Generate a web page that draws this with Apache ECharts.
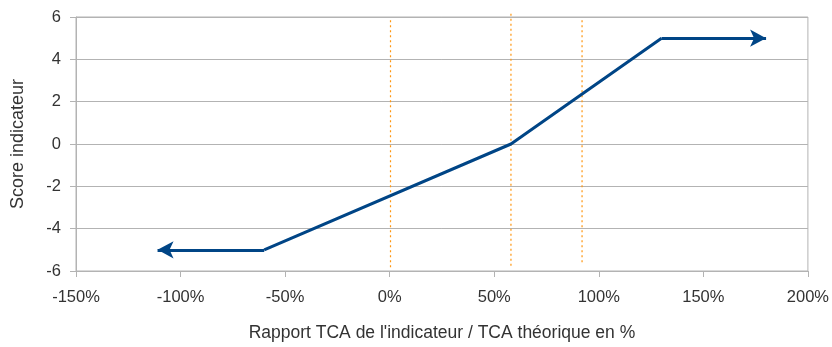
<!DOCTYPE html>
<html>
<head>
<meta charset="utf-8">
<script src="https://cdn.jsdelivr.net/npm/echarts@6/dist/echarts.min.js"></script>
<style>
  html, body { margin: 0; padding: 0; background: #fff; }
  #main { width: 832px; height: 347px; }
</style>
</head>
<body>
<div id="main"></div>
<script>
// courbe du score (x en %, y score)
var scoreX = [-60, 58, 130];
var scoreY = [-5, 0, 5];
// segments fléchés aux extrémités
var arrowLeft = [[-60, -5], [-111, -5]];
var arrowRight = [[130, 5], [180, 5]];
// seuils verticaux (pointillés orange)
var seuilsX = [0.4, 58, 92];
var seuilsTop = [5.85, 6.15, 5.85];
var seuilsBottom = [-5.85, -5.75, -5.7];

var chartDom = document.getElementById("main");
var myChart = echarts.init(chartDom);
var font = "Liberation Sans";

var series = [
  {
    name: "score",
    type: "line",
    data: scoreX.map(function (x, i) { return [x, scoreY[i]]; }),
    symbol: "none",
    lineStyle: { color: "#004586", width: 3 },
    z: 5,
    markLine: {
      silent: true,
      symbol: ["none", "arrow"],
      symbolSize: [13, 16],
      label: { show: false },
      lineStyle: { color: "#004586", width: 3, type: "solid" },
      data: [
        [{ coord: arrowLeft[0] }, { coord: arrowLeft[1] }],
        [{ coord: arrowRight[0] }, { coord: arrowRight[1] }]
      ]
    }
  }
];

seuilsX.forEach(function (x, i) {
  series.push({
    type: "line",
    data: [[x, seuilsTop[i]], [x, seuilsBottom[i]]],
    symbol: "none",
    clip: false,
    lineStyle: { color: "#ff950e", width: 1.2, type: [2, 3] },
    z: 3
  });
});

var option = {
  animation: false,
  textStyle: { fontFamily: font },
  grid: {
    left: 76, right: 24, top: 17, bottom: 75,
    show: true, borderColor: "#b3b3b3", borderWidth: 1
  },
  xAxis: {
    type: "value",
    min: -150, max: 200, interval: 50,
    name: "Rapport TCA de l'indicateur / TCA théorique en %",
    nameLocation: "middle",
    nameGap: 53,
    nameTextStyle: { color: "#333", fontSize: 17.5, fontFamily: font },
    axisLine: { show: true, onZero: false, lineStyle: { color: "#b3b3b3" } },
    axisTick: { show: true, length: 6, lineStyle: { color: "#b3b3b3" } },
    axisLabel: { formatter: "{value}%", color: "#333", fontSize: 16.5, margin: 18, fontFamily: font },
    splitLine: { show: false }
  },
  yAxis: {
    type: "value",
    min: -6, max: 6, interval: 2,
    name: "Score indicateur",
    nameLocation: "middle",
    nameGap: 49,
    nameTextStyle: { color: "#333", fontSize: 18, fontFamily: font },
    axisLine: { show: true, onZero: false, lineStyle: { color: "#b3b3b3" } },
    axisTick: { show: true, length: 6, lineStyle: { color: "#b3b3b3" } },
    axisLabel: { color: "#333", fontSize: 16.5, margin: 15, fontFamily: font },
    splitLine: { show: true, lineStyle: { color: "#b3b3b3", width: 1 } }
  },
  series: series
};

option && myChart.setOption(option);
</script>
</body>
</html>
